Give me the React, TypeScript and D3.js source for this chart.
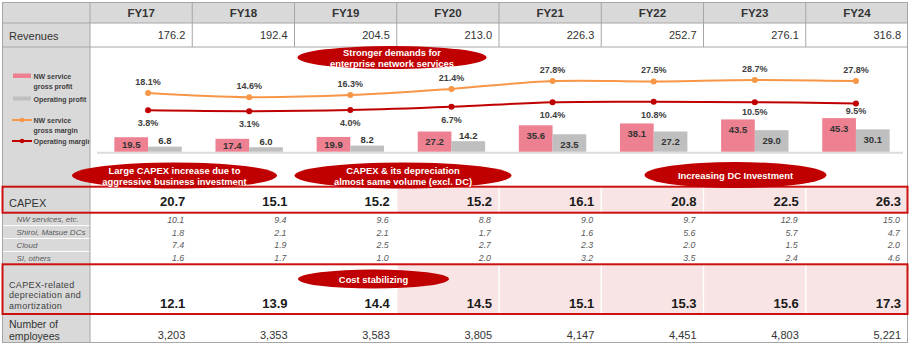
import React from 'react';
import * as d3 from 'd3';

const years = ['FY17', 'FY18', 'FY19', 'FY20', 'FY21', 'FY22', 'FY23', 'FY24'];
const revenues = [176.2, 192.4, 204.5, 213.0, 226.3, 252.7, 276.1, 316.8];
const nwGrossProfit = [19.5, 17.4, 19.9, 27.2, 35.6, 38.1, 43.5, 45.3];
const operatingProfit = [6.8, 6.0, 8.2, 14.2, 23.5, 27.2, 29.0, 30.1];
const nwGrossMargin = [18.1, 14.6, 16.3, 21.4, 27.8, 27.5, 28.7, 27.8];
const operatingMargin = [3.8, 3.1, 4.0, 6.7, 10.4, 10.8, 10.5, 9.5];
const capex = [20.7, 15.1, 15.2, 15.2, 16.1, 20.8, 22.5, 26.3];
const capexNW = [10.1, 9.4, 9.6, 8.8, 9.0, 9.7, 12.9, 15.0];
const capexDC = [1.8, 2.1, 2.1, 1.7, 1.6, 5.6, 5.7, 4.7];
const capexCloud = [7.4, 1.9, 2.5, 2.7, 2.3, 2.0, 1.5, 2.0];
const capexSI = [1.6, 1.7, 1.0, 2.0, 3.2, 3.5, 2.4, 4.6];
const depreciation = [12.1, 13.9, 14.4, 14.5, 15.1, 15.3, 15.6, 17.3];
const employees = [3203, 3353, 3583, 3805, 4147, 4451, 4803, 5221];
const subLabels = ['NW services, etc.', 'Shiroi, Matsue DCs', 'Cloud', 'SI, others'];
const subSeries = [capexNW, capexDC, capexCloud, capexSI];
const highlightFrom = 'FY20';

const FONT = '"Liberation Sans", Arial, Helvetica, sans-serif';
const GRID = '#a6a6a6';
const HEAD_BG = '#d9d9d9';
const RED = '#c00000';
const BOX_RED = '#cc1111';
const PINK = '#ee8191';
const GRAY_BAR = '#bfbfbf';
const ORANGE = '#f79646';
const SHADE = '#f8e4e4';
const TXT = '#333333';

export default function App() {
  const W = 910, H = 345;
  const L = 2.5, R = 907.5, T = 2.5, B = 342.5;
  const colX0 = 90;
  const yHead = 23, yRev = 47, yCapTop = 186.7, yCapBot = 212.7, yDepTop = 264.3, yDepBot = 314;
  const subH = (yDepTop - yCapBot) / 4;

  const xCol = d3.scaleBand<string>().domain(years).range([colX0, R + 0.5]);
  const xChart = d3.scaleBand<string>().domain(years).range([97.5, 906.5]);
  const yBar = d3.scaleLinear().domain([0, 50]).range([151.7, 151.7 - 50 * 0.742]);
  const yLine = d3.scaleLinear().domain([0, 30]).range([115, 115 - 30 * 1.22]);
  const f1 = d3.format('.1f');
  const fInt = d3.format(',');
  const bw = xChart.bandwidth() / 3;
  const cx = (y: string) => (xChart(y) as number) + xChart.bandwidth() / 2;
  const colR = (y: string) => (xCol(y) as number) + xCol.bandwidth();
  const hiIdx = years.indexOf(highlightFrom);

  const line = d3
    .line<number>()
    .x((_, i) => cx(years[i]))
    .y((d) => yLine(d))
    .curve(d3.curveCatmullRom.alpha(0.5));

  const base = yBar(0);

  const ovals = [
    { cx: 392, cy: 57.5, rx: 94.5, ry: 11.5, lines: ['Stronger demands for', 'enterprise network services'] },
    { cx: 174.5, cy: 175.5, rx: 102.5, ry: 13, lines: ['Large CAPEX increase due to', 'aggressive business investment'] },
    { cx: 403, cy: 175.5, rx: 108.5, ry: 13, lines: ['CAPEX & its depreciation', 'almost same volume (excl. DC)'] },
    { cx: 735.5, cy: 175, rx: 91, ry: 13, lines: ['Increasing DC Investment'] },
    { cx: 373.5, cy: 279, rx: 75.5, ry: 9.5, lines: ['Cost stabilizing'] },
  ];

  return (
    <svg
      width={W}
      height={H}
      style={{ position: 'absolute', left: 0, top: 0, background: '#fff' }}
      fontFamily={FONT}
    >
      <defs>
        <clipPath id="legclip">
          <rect x={0} y={47} width={89.5} height={140} />
        </clipPath>
      </defs>
      <rect x={0} y={0} width={W} height={H} fill="#fff" />
      {/* header + left column */}
      <rect x={L} y={T} width={R - L} height={yHead - T} fill={HEAD_BG} />
      <rect x={L} y={T} width={colX0 - L} height={B - T} fill={HEAD_BG} />

      {/* shading */}
      {years.map((y, i) =>
        i >= hiIdx ? (
          <g key={'sh' + y}>
            <rect x={(xCol(y) as number) + 0.75} y={yCapTop} width={xCol.bandwidth() - 1.5} height={yCapBot - yCapTop} fill={SHADE} />
            <rect x={(xCol(y) as number) + 0.75} y={yDepTop} width={xCol.bandwidth() - 1.5} height={yDepBot - yDepTop} fill={SHADE} />
          </g>
        ) : null
      )}

      {/* sub-label white separators */}
      {[1, 2, 3].map((k) => (
        <line key={'ws' + k} x1={L} x2={colX0} y1={yCapBot + k * subH} y2={yCapBot + k * subH} stroke="#fff" strokeWidth={1} />
      ))}

      {/* grid */}
      <line x1={L} x2={R} y1={yHead} y2={yHead} stroke={GRID} />
      <line x1={L} x2={R} y1={yRev} y2={yRev} stroke={GRID} />
      <line x1={colX0} x2={colX0} y1={T} y2={B} stroke={GRID} />
      {years.slice(1).map((y) => (
        <line key={'vl' + y} x1={xCol(y)} x2={xCol(y)} y1={T} y2={yRev} stroke={GRID} />
      ))}
      <rect x={L} y={T} width={R - L} height={B - T} fill="none" stroke={GRID} />

      {/* header text */}
      {years.map((y) => (
        <text key={'h' + y} x={(xCol(y) as number) + xCol.bandwidth() / 2} y={13} textAnchor="middle" dominantBaseline="central" fontWeight="bold" fontSize={11.5} fill={TXT}>
          {y}
        </text>
      ))}

      {/* revenues */}
      <text x={9} y={35.5} dominantBaseline="central" fontSize={11} fill={TXT}>Revenues</text>
      {revenues.map((v, i) => (
        <text key={'rv' + i} x={colR(years[i]) - 7} y={35} textAnchor="end" dominantBaseline="central" fontSize={11} fill={TXT}>
          {f1(v)}
        </text>
      ))}

      {/* legend */}
      <g clipPath="url(#legclip)" fontWeight="bold" fontSize={7} fill="#404040">
        <rect x={13} y={73.5} width={18} height={4.5} fill={PINK} />
        <text x={33.5} y={76.7} dominantBaseline="central">NW service</text>
        <text x={33.5} y={86.5} dominantBaseline="central">gross profit</text>
        <rect x={13} y={96.5} width={18} height={4} fill={GRAY_BAR} />
        <text x={33.5} y={99} dominantBaseline="central">Operating profit</text>
        <line x1={12} x2={32} y1={120} y2={120} stroke={ORANGE} strokeWidth={2} />
        <circle cx={22} cy={120} r={2.3} fill={ORANGE} />
        <text x={33.5} y={120.7} dominantBaseline="central">NW service</text>
        <text x={33.5} y={130.3} dominantBaseline="central">gross margin</text>
        <line x1={12} x2={32} y1={141} y2={141} stroke={RED} strokeWidth={2} />
        <circle cx={22} cy={141} r={2.3} fill={RED} />
        <text x={33.5} y={141.3} dominantBaseline="central">Operating margin</text>
      </g>

      {/* baseline */}
      <line x1={97} x2={903} y1={base + 1} y2={base + 1} stroke="#dcdcdc" strokeWidth={2} />

      {/* bars */}
      {years.map((y, i) => (
        <g key={'b' + y}>
          <rect x={cx(y) - bw} y={yBar(nwGrossProfit[i])} width={bw} height={base - yBar(nwGrossProfit[i])} fill={PINK} />
          <rect x={cx(y)} y={yBar(operatingProfit[i])} width={bw} height={base - yBar(operatingProfit[i])} fill={GRAY_BAR} />
        </g>
      ))}
      {years.map((y, i) => {
        const pt = yBar(nwGrossProfit[i]);
        const gt = yBar(operatingProfit[i]);
        const py = Math.min(pt + 10, (pt + base) / 2 + 0.5);
        const gy = operatingProfit[i] > 20 ? gt + 10 : gt - 6;
        return (
          <g key={'bl' + y} fontWeight="bold" fontSize={9.5} fill={TXT} textAnchor="middle">
            <text x={cx(y) - bw / 2} y={py} dominantBaseline="central">{f1(nwGrossProfit[i])}</text>
            <text x={cx(y) + bw / 2} y={gy} dominantBaseline="central">{f1(operatingProfit[i])}</text>
          </g>
        );
      })}

      {/* lines */}
      <path d={line(nwGrossMargin) as string} fill="none" stroke={ORANGE} strokeWidth={2} />
      <path d={line(operatingMargin) as string} fill="none" stroke={RED} strokeWidth={2} />
      {years.map((y, i) => (
        <g key={'pt' + y}>
          <circle cx={cx(y)} cy={yLine(nwGrossMargin[i])} r={3} fill={ORANGE} />
          <circle cx={cx(y)} cy={yLine(operatingMargin[i])} r={3} fill={RED} />
        </g>
      ))}
      {years.map((y, i) => {
        const oy = yLine(nwGrossMargin[i]) - 11;
        const ry = Math.min(yLine(operatingMargin[i]) + 13, yBar(nwGrossProfit[i]) - 7);
        return (
          <g key={'ll' + y} fontWeight="bold" fontSize={9} fill="#404040" textAnchor="middle">
            <text x={cx(y)} y={oy} dominantBaseline="central">{f1(nwGrossMargin[i])}%</text>
            <text x={cx(y)} y={ry} dominantBaseline="central">{f1(operatingMargin[i])}%</text>
          </g>
        );
      })}

      {/* CAPEX row */}
      <text x={9} y={202.5} dominantBaseline="central" fontSize={11} fill={TXT}>CAPEX</text>
      {capex.map((v, i) => (
        <text key={'cx' + i} x={colR(years[i]) - 7} y={201.5} textAnchor="end" dominantBaseline="central" fontSize={13} fontWeight="bold" fill="#1a1a1a">
          {f1(v)}
        </text>
      ))}

      {/* sub rows */}
      {subLabels.map((lab, k) => {
        const yy = yCapBot + subH * (k + 0.5) + 0.5;
        return (
          <g key={'sr' + k} fontStyle="italic" fill="#595959">
            <text x={16.5} y={yy} dominantBaseline="central" fontSize={8}>{lab}</text>
            {subSeries[k].map((v, i) => (
              <text key={'sv' + i} x={colR(years[i]) - 8} y={yy} textAnchor="end" dominantBaseline="central" fontSize={8.8}>
                {f1(v)}
              </text>
            ))}
          </g>
        );
      })}

      {/* depreciation row */}
      <g fontSize={9} fill="#404040" letterSpacing={0.35}>
        <text x={9} y={285} dominantBaseline="central">CAPEX-related</text>
        <text x={9} y={295.3} dominantBaseline="central">depreciation and</text>
        <text x={9} y={305.7} dominantBaseline="central">amortization</text>
      </g>
      {depreciation.map((v, i) => (
        <text key={'dp' + i} x={colR(years[i]) - 7} y={303.3} textAnchor="end" dominantBaseline="central" fontSize={13} fontWeight="bold" fill="#1a1a1a">
          {f1(v)}
        </text>
      ))}

      {/* employees */}
      <text x={9} y={324} dominantBaseline="central" fontSize={10.5} fill={TXT}>Number of</text>
      <text x={9} y={335.7} dominantBaseline="central" fontSize={10.5} fill={TXT}>employees</text>
      {employees.map((v, i) => (
        <text key={'em' + i} x={colR(years[i]) - 7} y={335} textAnchor="end" dominantBaseline="central" fontSize={11} fill={TXT}>
          {fInt(v)}
        </text>
      ))}

      {/* red boxes */}
      <rect x={L} y={yCapTop} width={R - L} height={yCapBot - yCapTop} fill="none" stroke={BOX_RED} strokeWidth={2} />
      <rect x={L} y={yDepTop} width={R - L} height={yDepBot - yDepTop} fill="none" stroke={BOX_RED} strokeWidth={2} />

      {/* annotation ovals */}
      {ovals.map((o, k) => (
        <g key={'ov' + k}>
          <ellipse cx={o.cx} cy={o.cy} rx={o.rx} ry={o.ry} fill={RED} />
          {o.lines.map((t, j) => (
            <text
              key={j}
              x={o.cx}
              y={o.cy + (j - (o.lines.length - 1) / 2) * 11}
              textAnchor="middle"
              dominantBaseline="central"
              fontSize={9.4}
              fontWeight="bold"
              fill="#fff"
            >
              {t}
            </text>
          ))}
        </g>
      ))}
    </svg>
  );
}
